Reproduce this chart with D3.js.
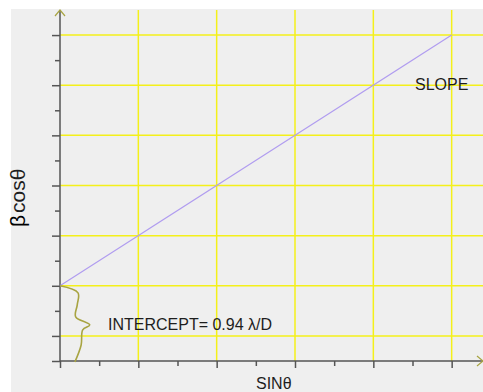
<!DOCTYPE html>
<html>
<head>
<meta charset="utf-8">
<script src="https://cdn.jsdelivr.net/npm/d3@7"></script>
<style>
  body { margin: 0; background: #fff; }
  text { font-family: "Liberation Sans", Arial, sans-serif; }
</style>
</head>
<body>
<div id="chart"></div>
<script>
// grid / tick positions (data units)
var xMajor = [0, 1, 2, 3, 4, 5];
var xMinor = [0.5, 1.5, 2.5, 3.5, 4.5];
var yMajor = [0, 0.5, 1.5, 2.5, 3.5, 4.5, 5.5, 6.5];
var yMinor = [1, 2, 3, 4, 5, 6];
var xGrid = [1, 2, 3, 4, 5];
var yGrid = [0.5, 1.5, 2.5, 3.5, 4.5, 5.5, 6.5];

// the straight line (sinθ vs βcosθ)
var lineX = [0, 5];
var lineY = [1.5, 6.5];

// brace marking the intercept
var braceX = [0, 0.23, 0.22, 0.2, 0.38, 0.29, 0.27, 0.19];
var braceY = [1.5, 1.36, 1.12, 0.88, 0.72, 0.62, 0.32, -0.02];

var W = 483, H = 392;
var svg = d3.select("#chart").append("svg")
  .attr("width", W)
  .attr("height", H);

// grey panel
svg.append("rect")
  .attr("x", 11).attr("y", 9)
  .attr("width", W - 11).attr("height", H - 9)
  .attr("fill", "#efefef");

var x = d3.scaleLinear().domain([0, 5.4]).range([60, 483]);
var y = d3.scaleLinear().domain([0, 7]).range([361, 10]);

// yellow grid
svg.append("g")
  .selectAll("line.v")
  .data(xGrid)
  .enter().append("line")
  .attr("x1", function (d) { return x(d); })
  .attr("x2", function (d) { return x(d); })
  .attr("y1", y(7))
  .attr("y2", y(0))
  .style("stroke", "#f4f01a")
  .style("stroke-width", 1.5);
svg.append("g")
  .selectAll("line.h")
  .data(yGrid)
  .enter().append("line")
  .attr("x1", x(0))
  .attr("x2", x(5.4))
  .attr("y1", function (d) { return y(d); })
  .attr("y2", function (d) { return y(d); })
  .style("stroke", "#f4f01a")
  .style("stroke-width", 1.5);

// axes with major / minor ticks
function styleAxis(g) {
  g.selectAll("path").remove();
  g.selectAll("line").style("stroke", "#555").style("stroke-width", 1.5);
  g.selectAll("text").remove();
}
svg.append("g")
  .attr("transform", "translate(" + x(0) + ",0)")
  .call(d3.axisLeft(y).tickValues(yMajor).tickSize(8).tickFormat(""))
  .call(styleAxis);
svg.append("g")
  .attr("transform", "translate(" + x(0) + ",0)")
  .call(d3.axisLeft(y).tickValues(yMinor).tickSize(5).tickFormat(""))
  .call(styleAxis);
svg.append("g")
  .attr("transform", "translate(0," + y(0) + ")")
  .call(d3.axisBottom(x).tickValues(xMajor).tickSize(7).tickFormat(""))
  .call(styleAxis);
svg.append("g")
  .attr("transform", "translate(0," + y(0) + ")")
  .call(d3.axisBottom(x).tickValues(xMinor).tickSize(5).tickFormat(""))
  .call(styleAxis);

// axis lines
svg.append("line")
  .attr("x1", x(0)).attr("y1", y(0))
  .attr("x2", x(0)).attr("y2", y(7))
  .style("stroke", "#555").style("stroke-width", 1.5);
svg.append("line")
  .attr("x1", x(0)).attr("y1", y(0))
  .attr("x2", x(5.4)).attr("y2", y(0))
  .style("stroke", "#555").style("stroke-width", 1.5);

// arrow heads
svg.append("path")
  .attr("d", "M" + (x(0) - 5) + "," + (y(7) + 6) + "L" + x(0) + "," + y(7) + "L" + (x(0) + 5) + "," + (y(7) + 6))
  .attr("fill", "none")
  .style("stroke", "#a8a442").style("stroke-width", 1.2);
svg.append("path")
  .attr("d", "M" + (x(5.4) - 6) + "," + (y(0) - 5) + "L" + x(5.4) + "," + y(0) + "L" + (x(5.4) - 6) + "," + (y(0) + 5))
  .attr("fill", "none")
  .style("stroke", "#a8a442").style("stroke-width", 1.2);

// the line
svg.append("path")
  .datum(d3.zip(lineX, lineY))
  .attr("d", d3.line()
    .x(function (d) { return x(d[0]); })
    .y(function (d) { return y(d[1]); }))
  .attr("fill", "none")
  .style("stroke", "#b09cf0")
  .style("stroke-width", 1.2);

// intercept brace
svg.append("path")
  .datum(d3.zip(braceX, braceY))
  .attr("d", d3.line()
    .x(function (d) { return x(d[0]); })
    .y(function (d) { return y(d[1]); })
    .curve(d3.curveCatmullRom))
  .attr("fill", "none")
  .style("stroke", "#a8a442")
  .style("stroke-width", 1.6);

// labels
svg.append("text")
  .attr("x", 415).attr("y", 90)
  .attr("font-size", 16)
  .attr("fill", "#1e1e1e")
  .text("SLOPE");
svg.append("text")
  .attr("x", 108).attr("y", 330)
  .attr("font-size", 16)
  .attr("fill", "#1e1e1e")
  .text("INTERCEPT= 0.94 λ/D");
svg.append("text")
  .attr("x", 256).attr("y", 389)
  .attr("font-size", 16)
  .attr("fill", "#1e1e1e")
  .text("SINθ");

var yl = svg.append("text")
  .attr("transform", "translate(25,227) rotate(-90)")
  .attr("font-size", 21)
  .attr("fill", "#1e1e1e");
yl.append("tspan").attr("fill", "#000").text("β");
yl.append("tspan").attr("dx", 2).text("cosθ");
</script>
</body>
</html>
